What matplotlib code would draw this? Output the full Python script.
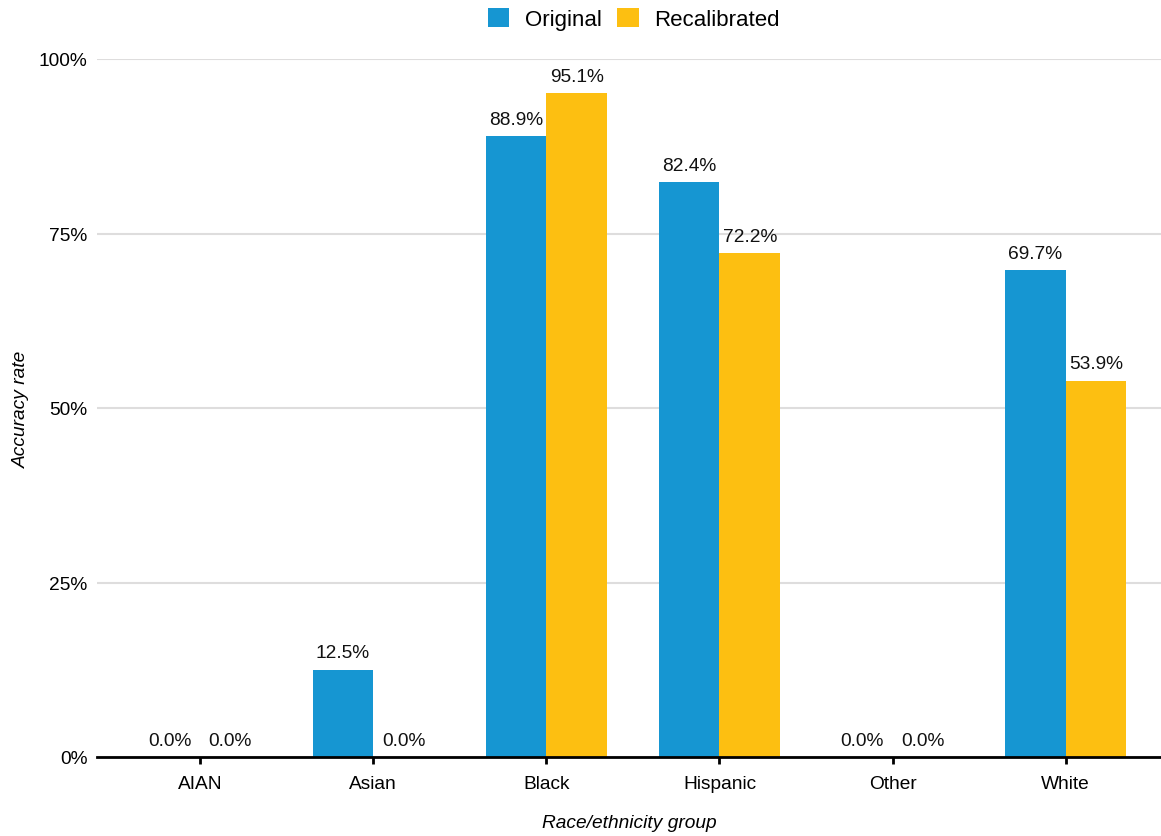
import matplotlib.pyplot as plt
import numpy as np

plt.rcParams['font.family'] = ['Liberation Sans', 'DejaVu Sans']

# Data
groups = ['AIAN', 'Asian', 'Black', 'Hispanic', 'Other', 'White']
original = [0.0, 12.5, 88.9, 82.4, 0.0, 69.7]
recalibrated = [0.0, 0.0, 95.1, 72.2, 0.0, 53.9]
series_names = ['Original', 'Recalibrated']
colors = ['#1696d2', '#fdbf11']
y_ticks = [0, 25, 50, 75, 100]

fig = plt.figure(figsize=(11.61, 8.37), dpi=100)
ax = fig.add_axes([97 / 1161, 1 - 758 / 837, 1 - 97 / 1161, (758 - 60) / 837])

x = np.arange(len(groups))
w = 0.35
bars1 = ax.bar(x - w / 2, original, w, color=colors[0], label=series_names[0], zorder=3)
bars2 = ax.bar(x + w / 2, recalibrated, w, color=colors[1], label=series_names[1], zorder=3)

# value labels above each bar
for bars, vals in [(bars1, original), (bars2, recalibrated)]:
    for b, v in zip(bars, vals):
        ax.annotate(f'{v:.1f}%', (b.get_x() + b.get_width() / 2, v),
                    xytext=(0, 6), textcoords='offset points',
                    ha='center', va='bottom', fontsize=13.8, color='#111111',
                    annotation_clip=False)

ax.set_xlim(-0.595, 5.55)
ax.set_ylim(0, 100)
ax.set_xticks(x)
ax.set_xticklabels(groups)
ax.set_yticks(y_ticks)
ax.set_yticklabels([f'{t}%' for t in y_ticks])

ax.grid(axis='y', color='#dedddd', linewidth=1.5, zorder=0)
ax.set_axisbelow(True)
for s in ['top', 'right', 'left']:
    ax.spines[s].set_visible(False)
ax.spines['bottom'].set_linewidth(2)
ax.spines['bottom'].set_color('black')
ax.spines['bottom'].set_zorder(4)

ax.tick_params(axis='x', length=5, width=2, color='black', pad=8, labelsize=13.8)
ax.tick_params(axis='y', length=0, pad=7, labelsize=13.8)

ax.set_xlabel('Race/ethnicity group', fontsize=13.8, style='italic', labelpad=16)
ax.set_ylabel('Accuracy rate', fontsize=13.8, style='italic')
ax.yaxis.set_label_coords(-0.063, 0.5)

fig.legend(loc='center', bbox_to_anchor=(634 / 1161, 1 - 20 / 837), ncol=2,
           frameon=False, fontsize=16, handlelength=0.95, handleheight=0.95,
           handletextpad=0.7, columnspacing=0.7)

fig.savefig('out.png', dpi=100)
